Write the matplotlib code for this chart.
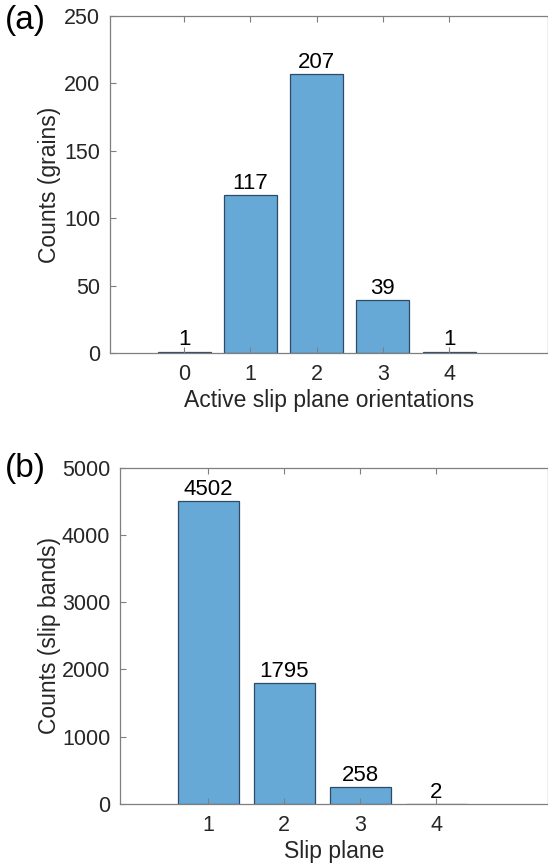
import matplotlib as mpl
mpl.use('Agg')
from matplotlib import pyplot as plt

plt.rcParams['font.family'] = ['Liberation Sans', 'DejaVu Sans']

# panel (a) data
orient_x = [0, 1, 2, 3, 4]
orient_counts = [1, 117, 207, 39, 1]

# panel (b) data
plane_x = [1, 2, 3, 4]
plane_counts = [4502, 1795, 258, 2]

bar_col = '#66a9d7'
edge_col = '#2e4a66'
axis_col = '#7f7f7f'
text_col = '#262626'
fs = 16.5      # axis labels
tfs = 15.5     # tick labels
bfs = 16       # bar value labels

fig = plt.figure(figsize=(5.48, 8.65), dpi=100)

def style_axes(ax):
    for s in ax.spines.values():
        s.set_color(axis_col)
        s.set_linewidth(0.9)
    ax.tick_params(direction='in', length=4, width=0.8, color=axis_col,
                   labelcolor=text_col, labelsize=tfs, top=True, right=False)
    ax.tick_params(axis='x', pad=8)
    ax.tick_params(axis='y', pad=7)

# (a)
ax1 = fig.add_axes([0.2007, 0.592, 0.8, 0.3895])
ax1.bar(orient_x, orient_counts, width=0.8, color=bar_col, edgecolor=edge_col, linewidth=0.9)
for x, c in zip(orient_x, orient_counts):
    ax1.text(x, c + 1, str(c), ha='center', va='bottom', fontsize=bfs, color='black')
ax1.set_xlim(-1.12, 5.5)
ax1.set_ylim(0, 250)
ax1.set_xticks(orient_x)
ax1.set_yticks([0, 50, 100, 150, 200, 250])
style_axes(ax1)
ax1.set_xlabel('Active slip plane orientations', fontsize=fs, color=text_col, labelpad=3)
ax1.set_ylabel('Counts (grains)', fontsize=fs, color=text_col)
ax1.yaxis.set_label_coords(-0.112, 0.5)
fig.text(0.008, 0.976, '(a)', fontsize=24, va='center', ha='left')

# (b)
ax2 = fig.add_axes([0.219, 0.0705, 0.781, 0.3888])
ax2.bar(plane_x, plane_counts, width=0.8, color=bar_col, edgecolor=edge_col, linewidth=0.9)
for x, c in zip(plane_x, plane_counts):
    ax2.text(x, c + 15, str(c), ha='center', va='bottom', fontsize=bfs, color='black')
ax2.set_xlim(-0.16, 5.47)
ax2.set_ylim(0, 5000)
ax2.set_xticks(plane_x)
ax2.set_yticks([0, 1000, 2000, 3000, 4000, 5000])
style_axes(ax2)
ax2.set_xlabel('Slip plane', fontsize=fs, color=text_col, labelpad=3)
ax2.set_ylabel('Counts (slip bands)', fontsize=fs, color=text_col)
ax2.yaxis.set_label_coords(-0.138, 0.5)
fig.text(0.008, 0.458, '(b)', fontsize=24, va='center', ha='left')

fig.savefig('out.png', dpi=100)
